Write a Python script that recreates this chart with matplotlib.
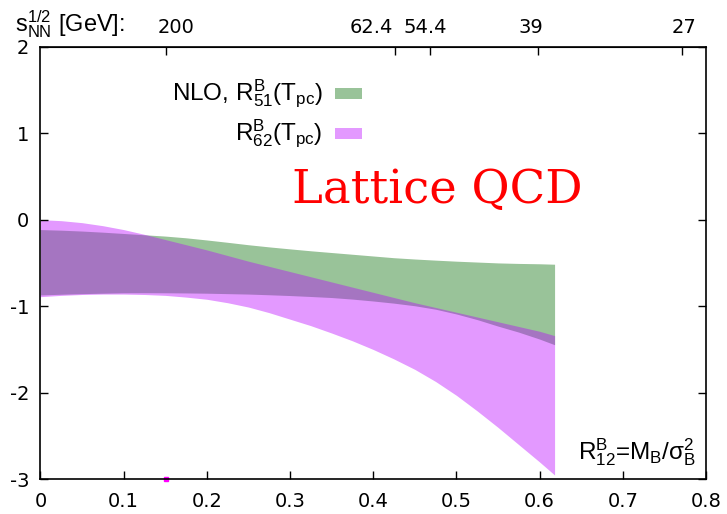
import matplotlib.pyplot as plt
from matplotlib.patches import Rectangle

plt.rcParams['axes.unicode_minus'] = False
plt.rcParams['font.family'] = ['DejaVu Sans']

# mu_B/T grid and band edges
mu_over_t = [0.0, 0.025, 0.05, 0.075, 0.1, 0.125, 0.15, 0.175, 0.2, 0.225, 0.25, 0.275, 0.3,
             0.325, 0.35, 0.375, 0.4, 0.425, 0.45, 0.475, 0.5, 0.525, 0.55, 0.575, 0.6, 0.618]
r51_upper = [-0.115, -0.122, -0.132, -0.145, -0.16, -0.175, -0.19, -0.21, -0.235, -0.262,
             -0.29, -0.315, -0.338, -0.36, -0.38, -0.40, -0.42, -0.44, -0.455, -0.468,
             -0.48, -0.49, -0.50, -0.506, -0.51, -0.515]
r51_lower = [-0.87, -0.862, -0.855, -0.85, -0.845, -0.844, -0.845, -0.847, -0.85, -0.855,
             -0.86, -0.868, -0.877, -0.888, -0.90, -0.918, -0.94, -0.965, -0.995, -1.035,
             -1.09, -1.155, -1.23, -1.30, -1.38, -1.445]
r62_upper = [0.0, -0.012, -0.035, -0.07, -0.115, -0.17, -0.23, -0.29, -0.35, -0.415,
             -0.48, -0.54, -0.60, -0.66, -0.72, -0.78, -0.84, -0.90, -0.96, -1.015,
             -1.07, -1.125, -1.18, -1.235, -1.29, -1.34]
r62_lower = [-0.89, -0.875, -0.865, -0.86, -0.86, -0.865, -0.875, -0.895, -0.92, -0.96,
             -1.01, -1.075, -1.15, -1.225, -1.31, -1.40, -1.50, -1.61, -1.73, -1.87,
             -2.03, -2.21, -2.40, -2.60, -2.80, -2.95]

# stray point on the x axis
pt_x = [0.151]
pt_y = [-3.0]

# collision energies on top axis
sqrt_s_pos = [0.1514, 0.4265, 0.468, 0.5985, 0.7717]
sqrt_s_label_pos = [0.1627, 0.398, 0.462, 0.589, 0.774]
sqrt_s_labels = ['200', '62.4', '54.4', '39', '27']

x_ticks = [0, 0.1, 0.2, 0.3, 0.4, 0.5, 0.6, 0.7, 0.8]
x_ticklabels = ['0', '0.1', '0.2', '0.3', '0.4', '0.5', '0.6', '0.7', '0.8']
y_ticks = [-3, -2, -1, 0, 1, 2]

green = (0.0, 0.41, 0.0)
violet = (0.725, 0.0, 1.0)
alpha = 0.4

fig = plt.figure(figsize=(7.27, 5.14), dpi=100)
ax = fig.add_axes([0.0556, 0.0675, 0.9155, 0.842])

ax.fill_between(mu_over_t, r51_lower, r51_upper, color=green, alpha=alpha, lw=0)
ax.fill_between(mu_over_t, r62_lower, r62_upper, color=violet, alpha=alpha, lw=0)
ax.plot(pt_x, pt_y, 's', color='magenta', ms=2.5, clip_on=False, zorder=1)

ax.set_xlim(0, 0.8)
ax.set_ylim(-3, 2)
ax.set_xticks(x_ticks)
ax.set_xticklabels(x_ticklabels)
ax.set_yticks(y_ticks)
ax.tick_params(axis='both', direction='in', length=6, width=1, labelsize=14)
ax.tick_params(axis='x', pad=9)
ax.tick_params(axis='y', right=True, pad=8)
for s in ax.spines.values():
    s.set_linewidth(1.2)

# top axis: sqrt(s_NN)
top = ax.secondary_xaxis('top')
top.set_xticks(sqrt_s_pos)
top.set_xticklabels([''] * len(sqrt_s_pos))
top.tick_params(direction='in', length=6, width=1)
for xp, lab in zip(sqrt_s_label_pos, sqrt_s_labels):
    ax.text(xp, 1.0 + 13.5 / 432.8, lab, transform=ax.get_xaxis_transform(),
            ha='center', va='baseline', fontsize=14)
fig.text(0.0206, 0.938, r'$\mathregular{s_{NN}^{1/2}}$ [GeV]:', fontsize=17,
         family='Liberation Sans', ha='left', va='baseline')

# legend drawn gnuplot style: right-aligned text, sample box on the right
leg_labels = [r'NLO, $\mathregular{R^B_{51}(T_{pc})}$', r'$\mathregular{R^B_{62}(T_{pc})}$']
leg_colors = [green, violet]
leg_y = [0.891, 0.799]
for lab, col, yy in zip(leg_labels, leg_colors, leg_y):
    ax.text(0.424, yy, lab, transform=ax.transAxes, ha='right', va='center',
            fontsize=17.5, family='Liberation Sans')
    ax.add_patch(Rectangle((0.443, yy - 0.013), 0.04, 0.026, transform=ax.transAxes,
                           facecolor=col, alpha=alpha, lw=0))

ax.text(0.378, 0.638, 'Lattice QCD', transform=ax.transAxes, color='red',
        fontsize=33.5, family='DejaVu Serif', ha='left', va='baseline')
ax.text(0.985, 0.046, r'$\mathregular{R^B_{12}}$=$\mathregular{M_B/\sigma^2_B}$',
        transform=ax.transAxes, ha='right', va='baseline', fontsize=17.5,
        family='Liberation Sans')

fig.savefig('out.png', dpi=100)
